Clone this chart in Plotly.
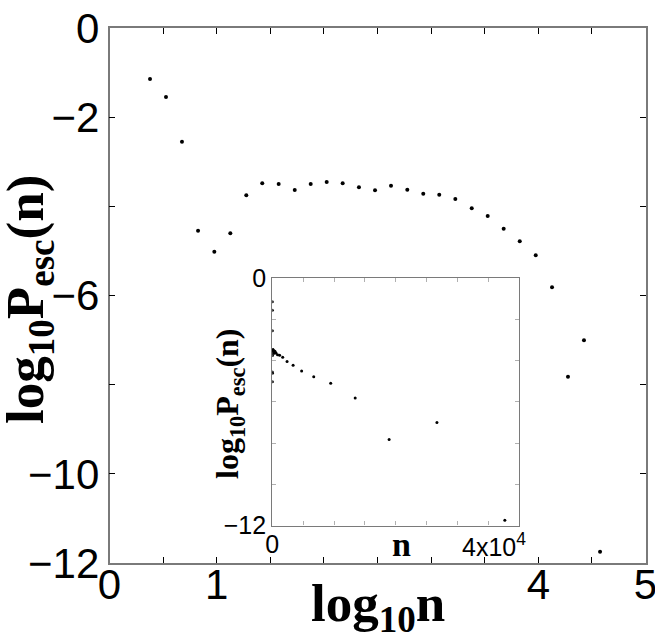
import plotly.graph_objects as go

# log10 n (bin positions) and log10 P_esc(n)
log10_n = [0.378, 0.527, 0.676, 0.826, 0.978, 1.127, 1.276, 1.425, 1.578, 1.728,
           1.877, 2.026, 2.175, 2.327, 2.477, 2.626, 2.778, 2.927, 3.076, 3.226,
           3.379, 3.528, 3.677, 3.827, 3.976, 4.128, 4.277, 4.426, 4.576]
log10_p = [-1.144, -1.548, -2.550, -4.547, -5.018, -4.605, -3.753, -3.484, -3.499, -3.634,
           -3.499, -3.454, -3.484, -3.573, -3.638, -3.540, -3.627, -3.717, -3.739, -3.836,
           -4.044, -4.217, -4.502, -4.785, -5.099, -5.816, -7.822, -7.005, -11.747]
# inset uses the same data against n itself
n_vals = [10 ** v for v in log10_n]

main_xticks = [0, 0.5, 1, 1.5, 2, 2.5, 3, 3.5, 4, 4.5, 5]
main_xlabels = ["0", "", "1", "", "", "", "", "", "4", "", "5"]
main_yticks = [0, -2, -4, -6, -8, -10, -12]
main_ylabels = ["0", "\u22122", "", "\u22126", "", "\u221210", "\u221212"]
inset_xticks = [0, 5000, 10000, 15000, 20000, 25000, 30000, 35000, 40000]
inset_xlabels = ["0", "", "", "", "", "", "", "", ""]
inset_yticks = [0, -2, -4, -6, -8, -10, -12]
inset_ylabels = ["0", "", "", "", "", "", "\u221212"]

W, H = 655, 643
def px(x):
    return x / W
def py(y):
    return 1 - y / H

fig = go.Figure()
fig.add_trace(go.Scatter(x=log10_n, y=log10_p, mode="markers",
                         marker=dict(color="black", size=4),
                         xaxis="x", yaxis="y", showlegend=False, cliponaxis=False))
fig.add_trace(go.Scatter(x=n_vals, y=log10_p, mode="markers",
                         marker=dict(color="black", size=3),
                         xaxis="x2", yaxis="y2", showlegend=False))

tickfont_main = dict(family="Liberation Sans, Arial, sans-serif", size=42, color="black")
tickfont_inset = dict(family="Liberation Sans, Arial, sans-serif", size=25, color="black")
title_font = dict(family="Liberation Serif, Times New Roman, serif", size=53, color="black", weight="bold")
inset_title_font = dict(family="Liberation Serif, Times New Roman, serif", size=32, color="black", weight="bold")

common_main = dict(showgrid=False, zeroline=False, showline=True, linecolor="#7a7a7a",
                   linewidth=1.5, mirror="ticks", ticks="inside", ticklen=6,
                   tickcolor="black", tickwidth=1.2, tickfont=tickfont_main,
                   automargin=False, ticklabeloverflow="allow")
common_inset = dict(showgrid=False, zeroline=False, showline=True, linecolor="#7a7a7a",
                    linewidth=1.2, mirror="ticks", ticks="inside", ticklen=4,
                    tickcolor="#b0b0b0", tickwidth=1, tickfont=tickfont_inset,
                    automargin=False, ticklabeloverflow="allow")

fig.update_layout(
    width=W, height=H,
    margin=dict(l=0, r=0, t=0, b=0, autoexpand=False),
    paper_bgcolor="white", plot_bgcolor="white",
    xaxis=dict(domain=[px(109.5), px(645.5)], range=[0, 5], tickmode="array",
               tickvals=main_xticks, ticktext=main_xlabels, anchor="y",
               ticklabelstandoff=-16, **common_main),
    yaxis=dict(domain=[py(563), py(28)], range=[-12, 0], tickmode="array",
               tickvals=main_yticks, ticktext=main_ylabels, anchor="x", **common_main),
    xaxis2=dict(domain=[px(272.3), px(519.2)], range=[0, 40000], tickmode="array",
                tickvals=inset_xticks, ticktext=inset_xlabels, anchor="y2",
                ticklabelstandoff=-4, **common_inset),
    yaxis2=dict(domain=[py(525.5), py(278.3)], range=[-12, 0], tickmode="array",
                tickvals=inset_yticks, ticktext=inset_ylabels, anchor="x2", **common_inset),
    annotations=[
        dict(text="log<sub>10</sub>n", xref="paper", yref="paper",
             x=px(377.5), y=py(607), xanchor="center", yanchor="middle",
             showarrow=False, font=title_font),
        dict(text="log<sub>10</sub>P<sub>esc</sub>(n)", xref="paper", yref="paper",
             x=px(29), y=py(300), xanchor="center", yanchor="middle", textangle=-90,
             showarrow=False, font=title_font),
        dict(text="log<sub>10</sub>P<sub>esc</sub>(n)", xref="paper", yref="paper",
             x=px(229), y=py(404), xanchor="center", yanchor="middle", textangle=-90,
             showarrow=False, font=inset_title_font),
        dict(text="n", xref="paper", yref="paper",
             x=px(401), y=py(544), xanchor="center", yanchor="middle",
             showarrow=False, font=dict(family="Liberation Serif, Times New Roman, serif",
                                        size=34, color="black", weight="bold")),
        dict(text="4x10<sup>4</sup>", xref="paper", yref="paper",
             x=px(494), y=py(545), xanchor="center", yanchor="middle",
             showarrow=False, font=tickfont_inset),
    ],
)

fig.write_html("out.html", config={"displayModeBar": False},
               post_script="document.body.style.margin='0';document.body.style.overflow='hidden';")
